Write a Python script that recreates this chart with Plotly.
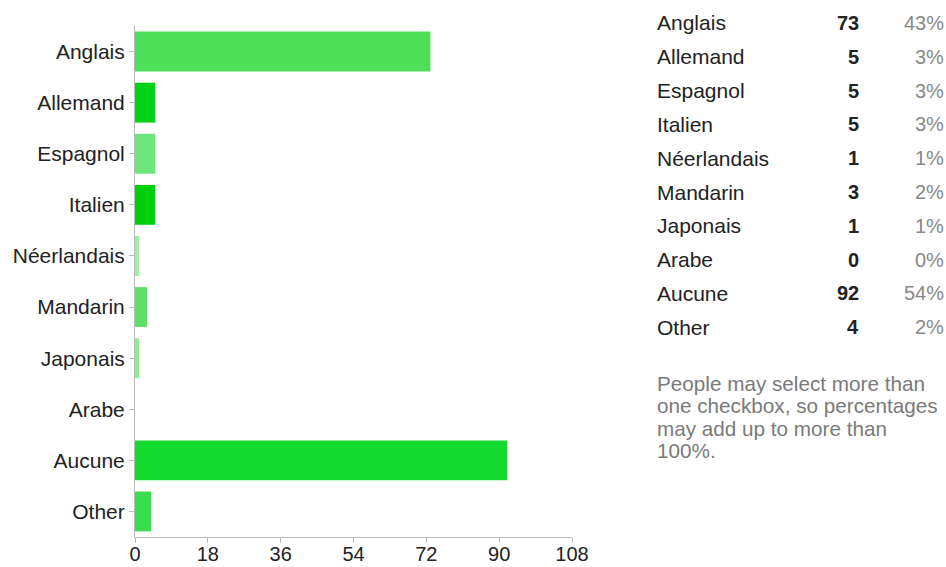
import plotly.graph_objects as go

categories = ["Anglais", "Allemand", "Espagnol", "Italien", "Néerlandais",
              "Mandarin", "Japonais", "Arabe", "Aucune", "Other"]
counts = [73, 5, 5, 5, 1, 3, 1, 0, 92, 4]
percents = ["43%", "3%", "3%", "3%", "1%", "2%", "1%", "0%", "54%", "2%"]
bar_colors = ["#4ddf57", "#00d215", "#6ee47c", "#00d00c", "#a0eea6",
              "#5ee06a", "#8eeb96", "#8eeb96", "#14d92e", "#3bdc4b"]
x_ticks = [0, 18, 36, 54, 72, 90, 108]
note_lines = ["People may select more than", "one checkbox, so percentages",
              "may add up to more than", "100%."]

W, H = 946, 567
L, R, T, B = 135, 572, 26, 537

fig = go.Figure(go.Bar(
    x=counts, y=categories, orientation="h",
    marker=dict(color=bar_colors, line=dict(width=0)),
    hoverinfo="skip",
))

font = "Liberation Sans, Arial, Helvetica, sans-serif"
FS = 21

def px(xp):
    return (xp - L) / (R - L)

def py(yp):
    return (B - yp) / (B - T)

ann = []
row0, step = 23, 33.8
for i, (c, n, p) in enumerate(zip(categories, counts, percents)):
    yy = py(row0 + i * step)
    ann.append(dict(x=px(657), y=yy, xref="paper", yref="paper", text=c,
                    showarrow=False, xanchor="left", yanchor="middle",
                    xshift=-2, font=dict(size=FS, color="#222222", family=font)))
    ann.append(dict(x=px(859), y=yy, xref="paper", yref="paper", text=f"<b>{n}</b>",
                    showarrow=False, xanchor="right", yanchor="middle",
                    xshift=2, font=dict(size=FS - 1, color="#222222", family=font)))
    ann.append(dict(x=px(945), y=yy, xref="paper", yref="paper", text=p,
                    showarrow=False, xanchor="right", yanchor="middle",
                    xshift=1, font=dict(size=FS - 1, color="#888888", family=font)))
for j, line in enumerate(note_lines):
    ann.append(dict(x=px(657), y=py(383 + j * 22.6), xref="paper", yref="paper",
                    text=line, showarrow=False, xanchor="left", yanchor="middle",
                    xshift=-2, font=dict(size=20.7, color="#7a7a7a", family=font)))

fig.update_layout(
    width=W, height=H,
    margin=dict(l=L, r=W - R, t=T, b=H - B, pad=0, autoexpand=False),
    paper_bgcolor="white", plot_bgcolor="white",
    bargap=0.22,
    showlegend=False,
    hovermode=False,
    font=dict(family=font, size=FS, color="#222222"),
    xaxis=dict(range=[0, 108], tickvals=x_ticks, ticks="outside", ticklen=5,
               tickcolor="#bbbbbb", showline=True, linecolor="#bbbbbb",
               linewidth=1, showgrid=False, zeroline=False, automargin=False,
               ticklabelstandoff=-6,
               tickfont=dict(size=20, color="#222222")),
    yaxis=dict(autorange="reversed", ticks="outside", ticklen=5,
               tickcolor="#bbbbbb", showline=True, linecolor="#bbbbbb",
               linewidth=1, showgrid=False, zeroline=False, automargin=False,
               tickfont=dict(size=FS, color="#222222")),
    annotations=ann,
)

fig.write_html(
    "out.html",
    config={"displayModeBar": False},
    post_script="document.body.style.margin='0px';document.body.style.overflow='hidden';",
)
